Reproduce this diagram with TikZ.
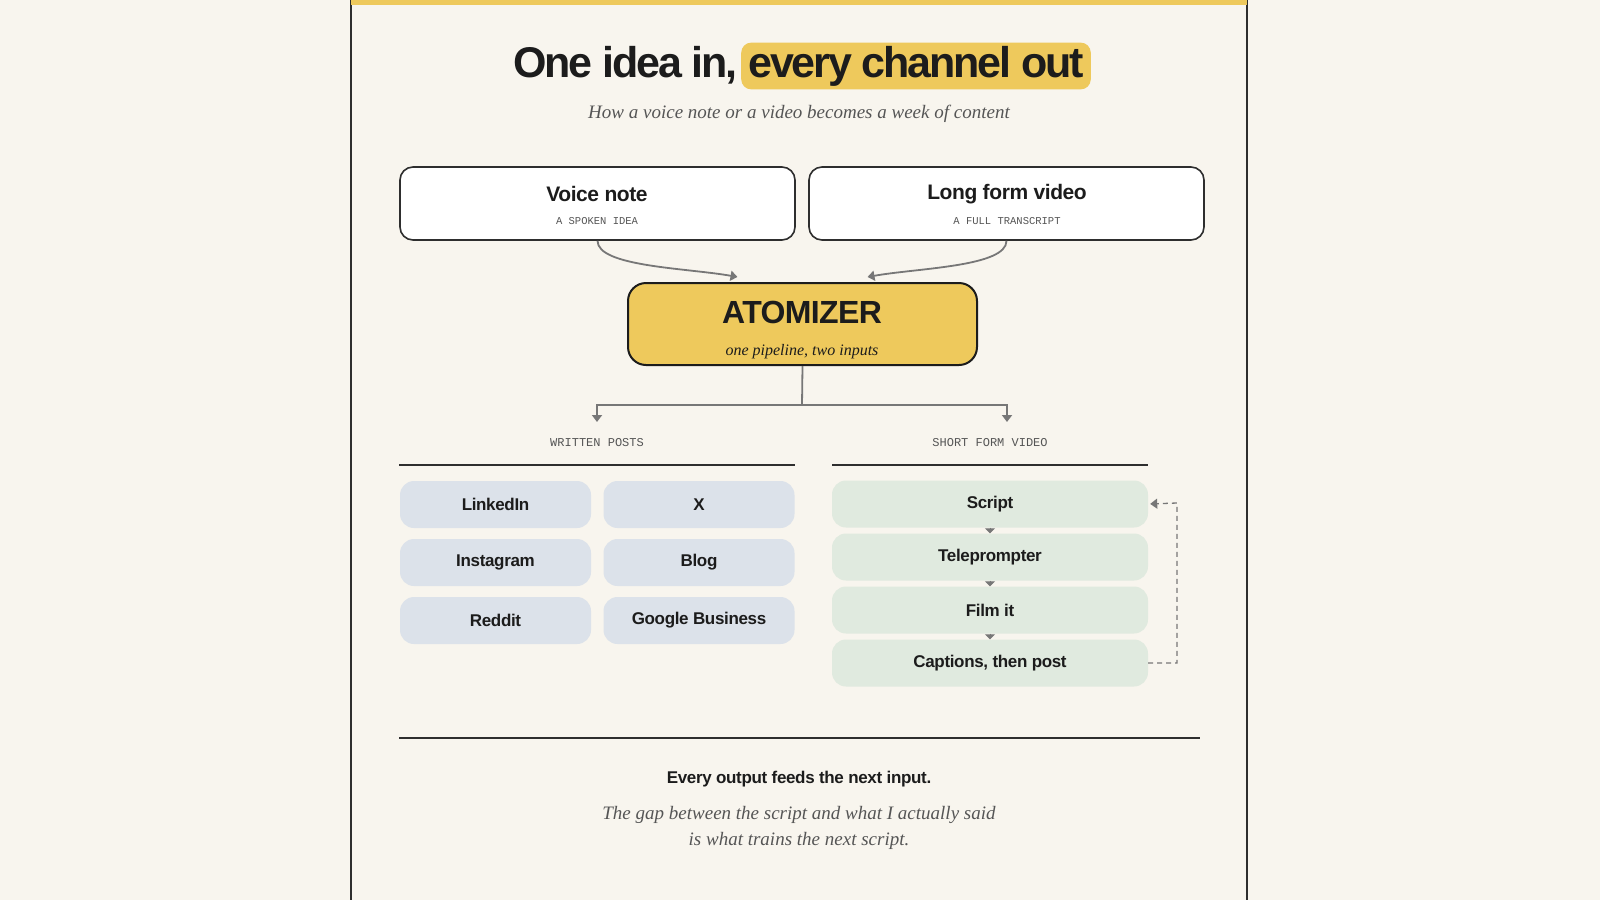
\documentclass[tikz,border=0pt]{standalone}
\usepackage{fontspec}
\setmainfont{Liberation Serif}
\setsansfont{Liberation Sans}
\setmonofont{Liberation Mono}
\newfontfamily\headfont[LetterSpace=-5]{Liberation Sans}
\newfontfamily\tightsans[LetterSpace=-2]{Liberation Sans}
\usetikzlibrary{arrows.meta}
\definecolor{bg}{HTML}{F8F5EE}
\definecolor{framec}{HTML}{2E2E2E}
\definecolor{yel}{HTML}{EEC95C}
\definecolor{ink}{HTML}{1C1C1C}
\definecolor{soft}{HTML}{555555}
\definecolor{conng}{HTML}{777777}
\definecolor{bluechip}{HTML}{DCE2EA}
\definecolor{greenchip}{HTML}{E0EADF}
\newcommand{\fsz}[2]{\fontsize{#1}{#2}\selectfont}
\tikzset{
  srcbox/.style={draw=framec, line width=1.6pt, fill=white, rounded corners=13pt, minimum width=395pt, minimum height=73pt, inner sep=0pt},
  atombox/.style={draw=ink, line width=2pt, fill=yel, rounded corners=18pt, minimum width=349pt, minimum height=82pt, inner sep=0pt},
  bluebox/.style={fill=bluechip, rounded corners=14pt, minimum width=191pt, minimum height=47pt, inner sep=0pt, text=ink, font=\tightsans\bfseries\fsz{17}{20}},
  greenbox/.style={fill=greenchip, rounded corners=14pt, minimum width=316pt, minimum height=47pt, inner sep=0pt, text=ink, font=\tightsans\bfseries\fsz{17}{20}},
  boxtitle/.style={text=ink, font=\tightsans\bfseries\fsz{21}{24}, inner sep=0pt},
  monosub/.style={text=soft, font=\ttfamily\fsz{10.5}{12}, inner sep=0pt},
  grouplabel/.style={text=soft, font=\ttfamily\fsz{12}{14}, inner sep=0pt},
  rule/.style={draw=framec, line width=2.5pt},
  conn/.style={draw=conng, line width=1.8pt},
  tip/.style={-{Triangle[width=10pt,length=7pt]}},
  smalltip/.style={draw=conng, line width=1pt, -{Triangle[width=10pt,length=5pt]}},
}
\begin{document}
\begin{tikzpicture}[x=1pt,y=-1pt]
\fill[bg] (0,0) rectangle (1600,900);
\useasboundingbox (0,0) rectangle (1600,900);
% frame
\draw[framec, line width=2.5pt] (351,0) -- (351,900);
\draw[framec, line width=2.5pt] (1247,0) -- (1247,900);
\fill[yel] (351,0) rectangle (1247,4.5);
% title
\node[fill=yel, rounded corners=10pt, inner xsep=7pt, minimum height=44pt, text=ink, font=\headfont\bfseries\fsz{43}{48}] (t2) at (916,66) {every channel out};
\node[anchor=base east, inner sep=0pt, text=ink, font=\headfont\bfseries\fsz{43}{48}] (t1) at ([xshift=-3pt]t2.base west) {One idea in,};
\node[text=soft, font=\itshape\fsz{19}{22}, inner sep=0pt] (sub) at (799,114) {How a voice note or a video becomes a week of content};
% sources
\node[srcbox] (vn) at (597.5,203.5) {};
\node[boxtitle] (vnt) at (597,194) {Voice note};
\node[monosub] (vns) at (597,221) {A SPOKEN IDEA};
\node[srcbox] (lv) at (1006.5,203.5) {};
\node[boxtitle] (lvt) at (1007,194) {Long form video};
\node[monosub] (lvs) at (1007,221) {A FULL TRANSCRIPT};
% atomizer
\node[atombox] (atom) at (802.5,324) {};
\node[text=ink, font=\tightsans\bfseries\fsz{32}{36}, inner sep=0pt] (atomt) at (802,312) {ATOMIZER};
\node[text=ink, font=\itshape\fsz{16}{18}, inner sep=0pt] (atoms) at (802,352) {one pipeline, two inputs};
% inputs
\draw[conn, tip] (vn.south) .. controls +(0,26) and +(-50,-9) .. ([xshift=-65pt,yshift=5pt]atom.north);
\draw[conn, tip] (lv.south) .. controls +(0,26) and +(50,-9) .. ([xshift=65pt,yshift=5pt]atom.north);
% split
\coordinate (split) at (802,405);
\coordinate (wlt) at (597,422);
\coordinate (wrt) at (1007,422);
\draw[conn] (atom.south) -- (split);
\draw[conn, tip] (split) -| (wlt);
\draw[conn, tip] (split) -| (wrt);
\node[grouplabel] (wlab) at (597,443) {WRITTEN POSTS};
\node[grouplabel] (slab) at (990,443) {SHORT FORM VIDEO};
\draw[rule] (399,465) -- (795,465);
\draw[rule] (832,465) -- (1148,465);
% written chips
\node[bluebox] (li) at (495.5,504.5) {LinkedIn};
\node[bluebox] (xx) at (699,504.5) {X};
\node[bluebox] (ig) at (495.5,562.5) {Instagram};
\node[bluebox] (bl) at (699,562.5) {Blog};
\node[bluebox] (rd) at (495.5,620.5) {Reddit};
\node[bluebox] (gb) at (699,620.5) {Google Business};
% short form chain
\node[greenbox] (sc) at (990,504) {Script};
\node[greenbox] (tp) at (990,557) {Teleprompter};
\node[greenbox] (fi) at (990,610) {Film it};
\node[greenbox] (cp) at (990,663) {Captions, then post};
\draw[smalltip] (sc.south) -- (tp.north);
\draw[smalltip] (tp.south) -- (fi.north);
\draw[smalltip] (fi.south) -- (cp.north);
% feedback loop
\coordinate (fbr) at (1177,663);
\coordinate (fbt) at (1177,503);
\draw[draw=conng, line width=1.3pt, dash pattern=on 5pt off 4pt, -{Triangle[width=10pt,length=7pt]}, shorten >=2pt] (cp.east) -- (fbr) -- (fbt) -- (sc.east);
% bottom
\draw[rule] (399,738) -- (1200,738);
\node[text=ink, font=\tightsans\bfseries\fsz{17}{20}, inner sep=0pt] (fb1) at (799,779) {Every output feeds the next input.};
\node[text=soft, font=\itshape\fsz{19}{26}, align=center, inner sep=0pt] (fb2) at (799,828) {The gap between the script and what I actually said\\is what trains the next script.};
\end{tikzpicture}
\end{document}
